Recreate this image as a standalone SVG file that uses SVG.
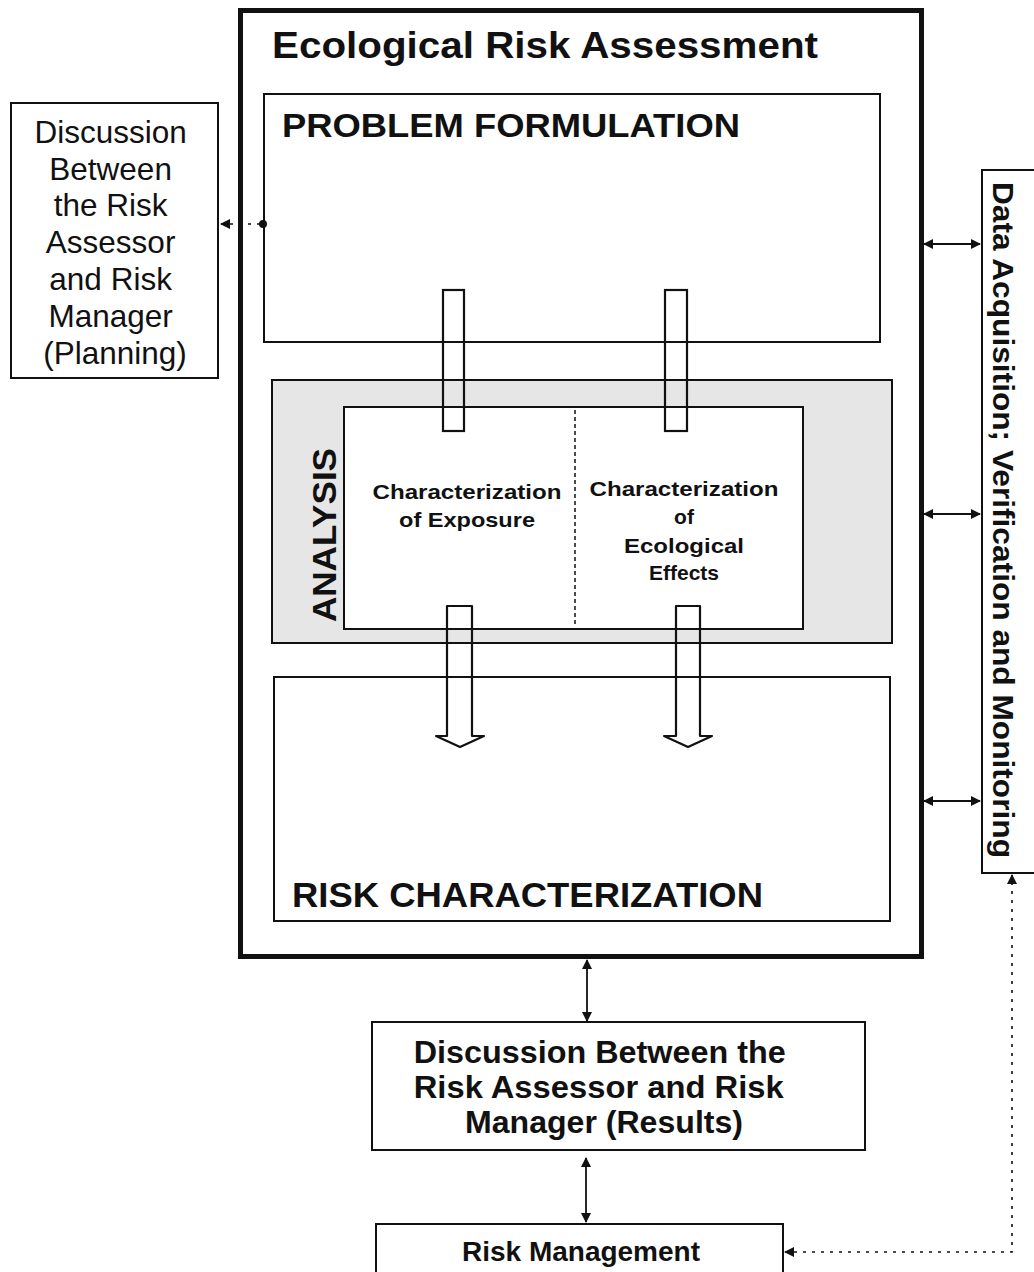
<svg xmlns="http://www.w3.org/2000/svg" width="1034" height="1272" viewBox="0 0 1034 1272">
<style>
.box{fill:#fff;stroke:#111;stroke-width:2}
.bar{fill:none;stroke:#111;stroke-width:2.2}
.t{font-family:"Liberation Sans",Arial,Helvetica,sans-serif;fill:#111}
.b{font-weight:bold}
.con{fill:none;stroke:#111;stroke-width:1.8}
.dash{fill:none;stroke:#111;stroke-width:1.6;stroke-dasharray:3 6}
</style>
<defs>
<marker id="ah" viewBox="0 0 10 10" refX="9" refY="5" markerWidth="10" markerHeight="10" markerUnits="userSpaceOnUse" orient="auto-start-reverse">
<path d="M0,0 L10,5 L0,10 Z" fill="#111"/>
</marker>
</defs>
<rect width="1034" height="1272" fill="#fff"/>

<g id="outer">
<rect x="240.5" y="10.5" width="681" height="946" fill="#fff" stroke="#111" stroke-width="5"/>
<text class="t b" x="272" y="58" font-size="37" textLength="546" lengthAdjust="spacingAndGlyphs">Ecological Risk Assessment</text>
</g>

<g id="problem-formulation">
<rect class="box" x="264" y="94" width="616" height="248"/>
<text class="t b" x="282" y="137" font-size="33" textLength="458" lengthAdjust="spacingAndGlyphs">PROBLEM FORMULATION</text>
</g>

<g id="analysis">
<rect x="272" y="380" width="620" height="263" fill="#e6e6e6" stroke="#111" stroke-width="2"/>
<text class="t b" transform="translate(336,622) rotate(-90)" font-size="34" textLength="174" lengthAdjust="spacingAndGlyphs">ANALYSIS</text>
<rect class="box" x="344" y="407" width="459" height="222"/>
<line x1="575" y1="410" x2="575" y2="627" stroke="#111" stroke-width="1.5" stroke-dasharray="4 3"/>
</g>

<g id="exposure">
<text class="t b" font-size="21" text-anchor="middle"><tspan x="467" y="499" textLength="189" lengthAdjust="spacingAndGlyphs">Characterization</tspan><tspan x="467" y="527" textLength="136" lengthAdjust="spacingAndGlyphs">of Exposure</tspan></text>
</g>

<g id="effects">
<text class="t b" font-size="21" text-anchor="middle"><tspan x="684" y="496" textLength="189" lengthAdjust="spacingAndGlyphs">Characterization</tspan><tspan x="684" y="524">of</tspan><tspan x="684" y="553" textLength="120" lengthAdjust="spacingAndGlyphs">Ecological</tspan><tspan x="684" y="580">Effects</tspan></text>
</g>

<g id="risk-characterization">
<rect class="box" x="274" y="677" width="616" height="244"/>
<text class="t b" x="292" y="907" font-size="35" textLength="471" lengthAdjust="spacingAndGlyphs">RISK CHARACTERIZATION</text>
</g>

<g id="planning">
<rect class="box" x="11" y="103" width="207" height="275"/>
<text class="t" font-size="31.5" text-anchor="middle">
<tspan x="115" y="143">Discussion</tspan>
<tspan x="115" y="180">Between</tspan>
<tspan x="115" y="216">the Risk</tspan>
<tspan x="115" y="253">Assessor</tspan>
<tspan x="115" y="290">and Risk</tspan>
<tspan x="115" y="327">Manager</tspan>
<tspan x="115" y="364">(Planning)</tspan>
</text>
</g>

<g id="data-acquisition">
<rect class="box" x="982" y="170" width="60" height="703"/>
<text class="t b" transform="translate(993,182) rotate(90)" font-size="30" textLength="676" lengthAdjust="spacingAndGlyphs">Data Acquisition;  Verification and Monitoring</text>
</g>

<g id="results">
<rect class="box" x="372" y="1022" width="493" height="128"/>
<text class="t b" font-size="31" text-anchor="middle">
<tspan x="604" y="1063" textLength="372" lengthAdjust="spacingAndGlyphs">Discussion Between the</tspan>
<tspan x="603" y="1098" textLength="370" lengthAdjust="spacingAndGlyphs">Risk Assessor and Risk</tspan>
<tspan x="604" y="1133" textLength="278" lengthAdjust="spacingAndGlyphs">Manager (Results)</tspan>
</text>
</g>

<g id="risk-management">
<rect class="box" x="376" y="1224" width="407" height="60"/>
<text class="t b" x="581" y="1261" font-size="27" text-anchor="middle" textLength="238" lengthAdjust="spacingAndGlyphs">Risk Management</text>
</g>

<g id="connectors">
<rect class="bar" x="443" y="290" width="21" height="141"/>
<rect class="bar" x="665" y="290" width="22" height="141"/>
<path class="bar" d="M447,736 V606 H472 V736 H484 L460,747 L436,736 Z" stroke-linejoin="round"/>
<path class="bar" d="M676,736 V606 H700 V736 H712 L688,747 L664,736 Z" stroke-linejoin="round"/>
<line class="dash" x1="221" y1="224" x2="263" y2="224" marker-start="url(#ah)" stroke-dasharray="3 2"/>
<circle cx="263" cy="224" r="4" fill="#111"/>
<line class="con" x1="924" y1="244" x2="980" y2="244" marker-start="url(#ah)" marker-end="url(#ah)"/>
<line class="con" x1="924" y1="514" x2="980" y2="514" marker-start="url(#ah)" marker-end="url(#ah)"/>
<line class="con" x1="924" y1="801" x2="980" y2="801" marker-start="url(#ah)" marker-end="url(#ah)"/>
<line class="con" x1="587" y1="960" x2="587" y2="1021" marker-start="url(#ah)" marker-end="url(#ah)"/>
<line class="con" x1="586" y1="1158" x2="586" y2="1222" marker-start="url(#ah)" marker-end="url(#ah)"/>
<path class="dash" d="M785,1252 H1012 V875" marker-start="url(#ah)" marker-end="url(#ah)"/>
</g>
</svg>
